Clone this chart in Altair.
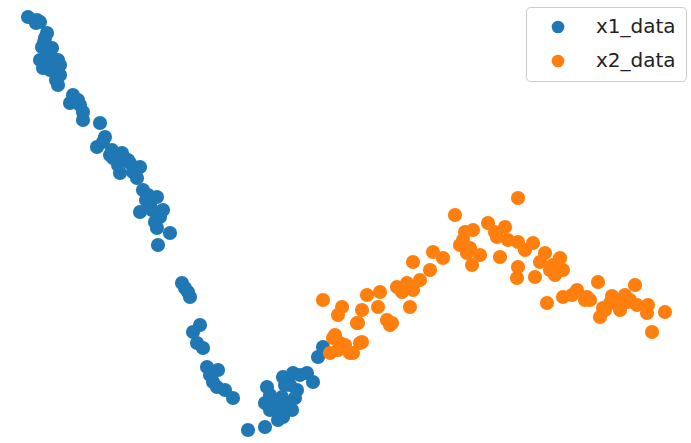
import altair as alt
import pandas as pd

x1_x = [28,37,40,47,44,42,52,50,40,46,52,58,43,50,57,60,58,56,73,70,78,80,83,83,100,105,97,103,110,113,122,128,130,140,120,133,137,143,148,157,150,140,152,160,163,155,157,170,158,182,185,188,190,200,193,197,203,207,218,210,213,217,225,233,248,265,267,270,265,283,293,307,313,297,290,282,275,283,292,280,287,278,318,323,36,45,48,60,112,118,146,300,285,295,270]
x1_y = [17,20,22,33,42,47,48,53,60,63,62,60,68,70,70,75,85,80,95,103,100,105,112,120,123,137,147,142,155,158,153,160,163,167,173,172,178,190,195,197,205,212,210,217,210,222,228,233,245,283,288,292,297,325,332,343,348,367,370,375,382,387,390,398,430,427,387,395,403,377,373,373,382,390,385,397,402,417,410,412,405,420,357,347,23,38,55,65,150,165,200,375,385,398,410]

x2_x = [323,342,338,357,362,367,380,378,390,397,407,413,410,420,413,430,433,443,455,460,463,473,467,472,488,505,497,500,518,518,533,518,517,535,545,560,550,563,547,563,577,587,598,600,610,620,635,625,637,648,665,652,647,333,338,360,353,330,350,345,392,387,358,335,340,362,402,470,540,555,605,615,630,585,572,495,480,465,508,525,553,590,612,628,603]
x2_y = [300,307,315,323,310,295,292,307,325,287,283,290,307,280,262,270,252,258,215,245,240,230,253,265,223,227,237,257,198,242,243,267,278,277,253,258,270,270,303,297,290,297,282,317,303,310,285,295,305,305,312,332,313,338,350,343,353,353,353,345,323,320,323,335,343,342,292,248,262,275,310,300,300,300,295,232,255,232,240,250,265,300,296,302,308]

df = pd.concat([
    pd.DataFrame({"x": x1_x, "y": x1_y, "series": "x1_data"}),
    pd.DataFrame({"x": x2_x, "y": x2_y, "series": "x2_data"}),
])

chart = alt.Chart(df).mark_circle(size=200, opacity=1).encode(
    x=alt.X("x:Q", scale=alt.Scale(domain=[0, 691], nice=False, zero=False), axis=None),
    y=alt.Y("y:Q", scale=alt.Scale(domain=[0, 443], nice=False, zero=False, reverse=True), axis=None),
    color=alt.Color("series:N",
                    scale=alt.Scale(domain=["x1_data", "x2_data"], range=["#1f77b4", "#ff7f0e"]),
                    legend=alt.Legend(title=None, orient="none", legendX=526, legendY=7,
                                      fillColor="white", strokeColor="#cccccc", cornerRadius=4,
                                      padding=10, labelFontSize=20, labelFont="DejaVu Sans",
                                      labelColor="#222222", symbolSize=160, symbolType="circle",
                                      rowPadding=14, labelOffset=28, symbolOffset=12)),
).properties(width=691, height=443, padding=0, autosize="none").configure_view(stroke=None)

chart.save("out.html", embed_options={"renderer": "svg", "actions": False})
